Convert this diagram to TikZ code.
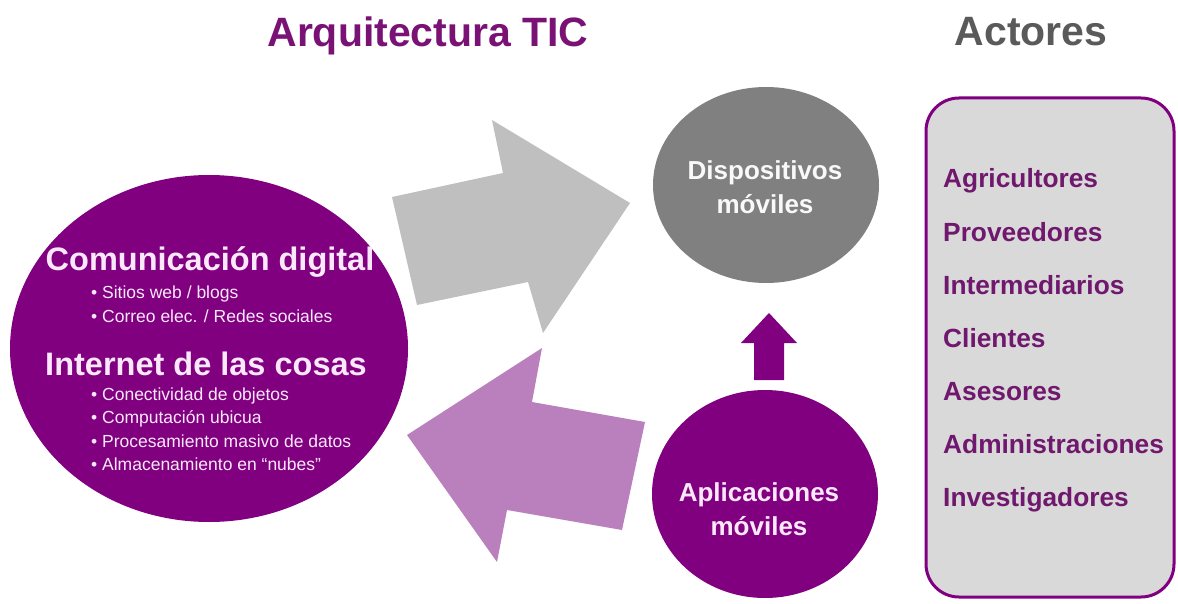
\documentclass[tikz,border=0pt]{standalone}
\usepackage{fontspec}
\setmainfont{Liberation Sans}
\usetikzlibrary{shapes.geometric}
\definecolor{morado}{RGB}{128,0,128}
\definecolor{moradotit}{RGB}{122,18,118}
\definecolor{moradotxt}{RGB}{112,24,110}
\definecolor{lila}{RGB}{186,128,189}
\definecolor{grisosc}{RGB}{128,128,128}
\definecolor{grisclaro}{RGB}{191,191,191}
\definecolor{grisfondo}{RGB}{217,217,217}
\definecolor{gristit}{RGB}{90,90,90}
\definecolor{rosatxt}{RGB}{252,232,252}
\begin{document}
\begin{tikzpicture}[x=1pt,y=-1pt,
  circulo/.style={ellipse,inner sep=0pt},
  titulo/.style={anchor=base,font=\fontsize{41}{46}\selectfont\bfseries},
  cabecera/.style={anchor=base,text=rosatxt,font=\fontsize{32.5}{38}\selectfont\bfseries},
  vineta/.style={anchor=base west,inner sep=0pt,text=rosatxt,font=\fontsize{17.5}{20}\selectfont},
  etiqueta/.style={align=center,font=\fontsize{26}{34}\selectfont\bfseries},
  actor/.style={anchor=base west,inner sep=0pt,text=moradotxt,font=\fontsize{26.3}{30}\selectfont\bfseries}]
\useasboundingbox (0,0) rectangle (1178,604);
\node[titulo,text=moradotit] (arq) at (428,47) {Arquitectura TIC};
\node[titulo,text=gristit] (act) at (1031,46) {Actores};
\fill[grisclaro] (392,197) -- (503,173) -- (492,120) -- (630,203) -- (543,333) -- (528,282) -- (417,305) -- cycle;
\fill[lila] (645,422) -- (532,402) -- (542,348) -- (407,435) -- (497,562) -- (507,510) -- (622,530) -- cycle;
\node[circulo,fill=morado,minimum width=398,minimum height=347] (tic) at (209,348.5) {};
\node[cabecera] (com) at (210,270) {Comunicación digital};
\foreach \t [count=\i] in {Sitios web / blogs, Correo elec. / Redes sociales}
  \node[vineta] (com\i) at (91,{298+24.5*(\i-1)}) {\textbullet\ \t};
\node[cabecera] (iot) at (206,375) {Internet de las cosas};
\foreach \t [count=\i] in {Conectividad de objetos, Computación ubicua, Procesamiento masivo de datos, Almacenamiento en “nubes”}
  \node[vineta] (iot\i) at (91,{400+23.5*(\i-1)}) {\textbullet\ \t};
\node[circulo,fill=grisosc,minimum width=226,minimum height=196] (disp) at (766,185) {};
\node[etiqueta,text=white!95!gray] (disptxt) at (765,187) {Dispositivos\\móviles};
\node[circulo,fill=morado,minimum width=226,minimum height=208] (apps) at (765,494) {};
\node[etiqueta,text=rosatxt] (appstxt) at (759,509) {Aplicaciones\\móviles};
\fill[morado] (754,380) -- (754,343) -- (741,343) -- (769,313) -- (797,343) -- (784,343) -- (784,380) -- cycle;
\node[draw=morado,line width=3pt,fill=grisfondo,rounded corners=33pt,minimum width=248,minimum height=499] (actores) at (1050,347.5) {};
\foreach \a [count=\i] in {Agricultores, Proveedores, Intermediarios, Clientes, Asesores, Administraciones, Investigadores}
  \node[actor] (actor\i) at (943,{188+53*(\i-1)}) {\a};
\end{tikzpicture}
\end{document}
